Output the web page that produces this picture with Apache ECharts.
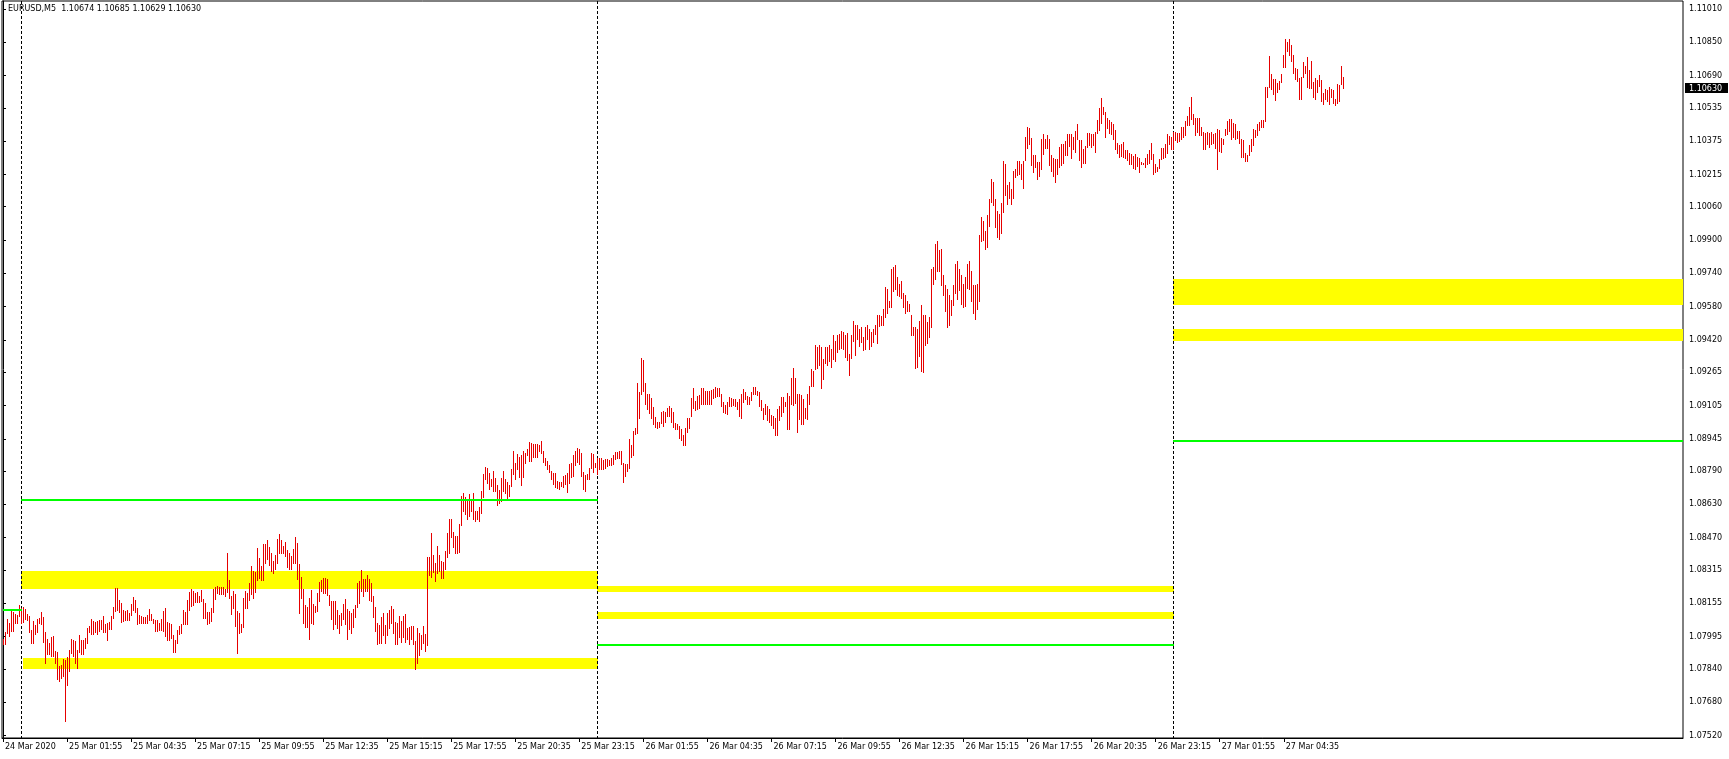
<!DOCTYPE html>
<html><head><meta charset="utf-8">
<script src="https://cdn.jsdelivr.net/npm/echarts@6/dist/echarts.min.js"></script>
<style>html,body{margin:0;padding:0;background:#fff}#c{width:1729px;height:759px}</style>
</head><body><div id="c"></div>
<script>
const symbol = 'EURUSD', timeframe = 'M5';
const lastQuote = [1.10674, 1.10685, 1.10629, 1.10630]; // open high low close
const xTickIdx = [0,32,64,96,128,160,192,224,256,288,320,352,384,416,448,480,512,544,576,608,640];
const xTickLabels = ['24 Mar 2020','25 Mar 01:55','25 Mar 04:35','25 Mar 07:15','25 Mar 09:55','25 Mar 12:35','25 Mar 15:15','25 Mar 17:55','25 Mar 20:35','25 Mar 23:15','26 Mar 01:55','26 Mar 04:35','26 Mar 07:15','26 Mar 09:55','26 Mar 12:35','26 Mar 15:15','26 Mar 17:55','26 Mar 20:35','26 Mar 23:15','27 Mar 01:55','27 Mar 04:35'];
const yTickValues = [1.11010,1.10850,1.10690,1.10535,1.10375,1.10215,1.10060,1.09900,1.09740,1.09580,1.09420,1.09265,1.09105,1.08945,1.08790,1.08630,1.08470,1.08315,1.08155,1.07995,1.07840,1.07680,1.07520];
const slotEnd = 839.5;   // last (empty) 5-minute slot on the right
const daySeparatorIdx = [9, 297, 585];
// [startBar, endBar, priceTop, priceBottom]
const zones = [
  [9, 297, 1.08310, 1.08224],
  [10, 297, 1.07893, 1.07839],
  [297, 585, 1.08240, 1.08209],
  [297, 585, 1.08113, 1.08081],
  [585, slotEnd, 1.09713, 1.09587],
  [585, slotEnd, 1.09473, 1.09416]
];
// [startBar, endBar, price]
const levelLines = [
  [0, 9, 1.08123],
  [9, 297, 1.08653],
  [297, 585, 1.07954],
  [585, slotEnd, 1.08935]
];
const barHigh = [
1.07984,1.08016,1.08080,1.08061,1.08128,1.08112,1.08102,1.08099,1.08147,1.08134,
1.08137,1.08128,1.08102,1.08093,1.08029,1.08070,1.08051,1.08080,1.08086,1.08112,
1.08089,1.08016,1.07984,1.07965,1.07993,1.07997,1.07926,1.07920,1.07856,1.07859,
1.07888,1.07885,1.07897,1.07933,1.07984,1.07981,1.07974,1.07933,1.08003,1.07981,
1.07981,1.07990,1.08035,1.08045,1.08080,1.08070,1.08067,1.08070,1.08077,1.08073,
1.08093,1.08057,1.08061,1.08064,1.08096,1.08137,1.08227,1.08227,1.08169,1.08157,
1.08125,1.08118,1.08125,1.08109,1.08150,1.08185,1.08169,1.08131,1.08099,1.08093,
1.08089,1.08089,1.08099,1.08128,1.08102,1.08080,1.08077,1.08073,1.08061,1.08080,
1.08118,1.08134,1.08067,1.08061,1.08057,1.08003,1.07977,1.08029,1.08045,1.08057,
1.08125,1.08112,1.08169,1.08208,1.08224,1.08214,1.08205,1.08208,1.08192,1.08221,
1.08176,1.08157,1.08115,1.08112,1.08134,1.08224,1.08233,1.08240,1.08233,1.08233,
1.08233,1.08224,1.08397,1.08269,1.08189,1.08214,1.08198,1.08118,1.08109,1.08057,
1.08182,1.08214,1.08205,1.08253,1.08336,1.08310,1.08307,1.08419,1.08374,1.08336,
1.08441,1.08441,1.08457,1.08425,1.08397,1.08360,1.08385,1.08465,1.08488,1.08459,
1.08430,1.08449,1.08411,1.08398,1.08382,1.08417,1.08472,1.08446,1.08344,1.08283,
1.08222,1.08149,1.08136,1.08181,1.08219,1.08152,1.08142,1.08206,1.08257,1.08267,
1.08277,1.08277,1.08273,1.08197,1.08168,1.08165,1.08168,1.08123,1.08101,1.08110,
1.08152,1.08177,1.08129,1.08117,1.08110,1.08129,1.08149,1.08254,1.08264,1.08315,
1.08273,1.08273,1.08293,1.08273,1.08254,1.08190,1.08139,1.08062,1.08053,1.08091,
1.08107,1.08053,1.08107,1.08123,1.08142,1.08126,1.08065,1.08062,1.08094,1.08069,
1.08094,1.08104,1.08037,1.08040,1.08046,1.08046,1.07976,1.08037,1.08014,1.08001,
1.08046,1.08008,1.08376,1.08376,1.08494,1.08389,1.08350,1.08430,1.08389,1.08357,
1.08353,1.08408,1.08494,1.08561,1.08561,1.08497,1.08478,1.08478,1.08536,1.08670,
1.08683,1.08667,1.08648,1.08680,1.08648,1.08686,1.08600,1.08597,1.08619,1.08696,
1.08776,1.08808,1.08805,1.08779,1.08750,1.08792,1.08757,1.08721,1.08699,1.08757,
1.08792,1.08753,1.08737,1.08725,1.08801,1.08885,1.08827,1.08872,1.08856,1.08865,
1.08885,1.08875,1.08894,1.08929,1.08926,1.08920,1.08920,1.08920,1.08913,1.08935,
1.08887,1.08852,1.08839,1.08820,1.08791,1.08782,1.08782,1.08743,1.08740,1.08737,
1.08766,1.08769,1.08782,1.08826,1.08830,1.08865,1.08887,1.08900,1.08897,1.08878,
1.08788,1.08772,1.08775,1.08807,1.08878,1.08874,1.08830,1.08852,1.08852,1.08852,
1.08842,1.08849,1.08846,1.08842,1.08852,1.08865,1.08881,1.08884,1.08887,1.08887,
1.08830,1.08823,1.08826,1.08942,1.08916,1.08983,1.08999,1.09214,1.09172,1.09335,
1.09326,1.09214,1.09159,1.09159,1.09140,1.09098,1.09050,1.09028,1.09028,1.09076,
1.09079,1.09073,1.09095,1.09105,1.09092,1.09073,1.09022,1.09015,1.09009,1.08993,
1.08964,1.08999,1.09047,1.09044,1.09143,1.09191,1.09127,1.09153,1.09156,1.09188,
1.09191,1.09175,1.09175,1.09175,1.09178,1.09185,1.09194,1.09188,1.09191,1.09162,
1.09124,1.09108,1.09124,1.09146,1.09140,1.09134,1.09137,1.09124,1.09137,1.09162,
1.09182,1.09169,1.09150,1.09146,1.09172,1.09194,1.09194,1.09175,1.09172,1.09130,
1.09095,1.09111,1.09102,1.09086,1.09060,1.09054,1.09047,1.09086,1.09105,1.09146,
1.09146,1.09124,1.09166,1.09150,1.09239,1.09284,1.09239,1.09162,1.09162,1.09156,
1.09137,1.09092,1.09159,1.09200,1.09279,1.09272,1.09394,1.09387,1.09397,1.09384,
1.09327,1.09387,1.09384,1.09397,1.09378,1.09442,1.09413,1.09445,1.09448,1.09461,
1.09458,1.09442,1.09455,1.09352,1.09442,1.09509,1.09490,1.09490,1.09471,1.09483,
1.09432,1.09480,1.09493,1.09471,1.09458,1.09474,1.09493,1.09538,1.09538,1.09535,
1.09567,1.09672,1.09666,1.09605,1.09759,1.09771,1.09781,1.09723,1.09691,1.09704,
1.09647,1.09634,1.09605,1.09592,1.09538,1.09483,1.09483,1.09474,1.09509,1.09586,
1.09541,1.09541,1.09506,1.09531,1.09762,1.09768,1.09883,1.09893,1.09851,1.09855,
1.09730,1.09685,1.09663,1.09634,1.09611,1.09685,1.09787,1.09797,1.09759,1.09730,
1.09688,1.09720,1.09787,1.09797,1.09752,1.09682,1.09682,1.09691,1.09922,1.10011,
1.09992,1.09944,1.10018,1.10098,1.10191,1.10181,1.10098,1.10040,1.10024,1.10079,
1.10280,1.10267,1.10162,1.10181,1.10143,1.10232,1.10239,1.10280,1.10280,1.10267,
1.10280,1.10395,1.10443,1.10440,1.10392,1.10306,1.10306,1.10274,1.10277,1.10383,
1.10408,1.10386,1.10402,1.10383,1.10309,1.10293,1.10290,1.10290,1.10347,1.10363,
1.10360,1.10376,1.10411,1.10411,1.10408,1.10395,1.10424,1.10458,1.10378,1.10378,
1.10336,1.10352,1.10416,1.10416,1.10410,1.10410,1.10419,1.10477,1.10535,1.10583,
1.10538,1.10515,1.10487,1.10477,1.10467,1.10458,1.10429,1.10365,1.10355,1.10362,
1.10371,1.10333,1.10333,1.10320,1.10314,1.10304,1.10314,1.10298,1.10295,1.10275,
1.10272,1.10295,1.10311,1.10333,1.10368,1.10311,1.10263,1.10253,1.10291,1.10343,
1.10343,1.10362,1.10410,1.10400,1.10394,1.10419,1.10419,1.10416,1.10413,1.10445,
1.10445,1.10471,1.10496,1.10538,1.10589,1.10503,1.10487,1.10487,1.10487,1.10445,
1.10419,1.10416,1.10419,1.10413,1.10419,1.10410,1.10416,1.10435,1.10429,1.10391,
1.10384,1.10432,1.10474,1.10483,1.10480,1.10461,1.10458,1.10423,1.10423,1.10384,
1.10378,1.10317,1.10307,1.10355,1.10387,1.10432,1.10429,1.10458,1.10467,1.10477,
1.10477,1.10634,1.10637,1.10784,1.10698,1.10675,1.10672,1.10656,1.10666,1.10695,
1.10791,1.10864,1.10851,1.10864,1.10835,1.10791,1.10727,1.10720,1.10679,1.10685,
1.10755,1.10736,1.10781,1.10717,1.10759,1.10659,1.10679,1.10669,1.10691,1.10669,
1.10608,1.10624,1.10621,1.10637,1.10624,1.10621,1.10576,1.10647,1.10643,1.10736,
1.10685];
const barLow = [
1.07958,1.07961,1.08013,1.08000,1.08022,1.08022,1.08062,1.08061,1.08093,1.08061,
1.08064,1.08080,1.08073,1.08019,1.07965,1.07965,1.08009,1.08019,1.08061,1.08057,
1.07968,1.07869,1.07910,1.07913,1.07904,1.07901,1.07869,1.07792,1.07782,1.07795,
1.07805,1.07590,1.07763,1.07830,1.07917,1.07904,1.07869,1.07846,1.07923,1.07913,
1.07910,1.07942,1.07965,1.08016,1.08009,1.08006,1.08016,1.08009,1.08022,1.08032,
1.08016,1.08019,1.07981,1.08032,1.08032,1.08086,1.08118,1.08125,1.08115,1.08067,
1.08070,1.08077,1.08073,1.08077,1.08099,1.08125,1.08115,1.08057,1.08061,1.08061,
1.08061,1.08061,1.08061,1.08077,1.08073,1.08061,1.08022,1.08022,1.08025,1.08029,
1.08022,1.07997,1.07977,1.07977,1.07987,1.07920,1.07923,1.07965,1.08009,1.08013,
1.08057,1.08057,1.08057,1.08121,1.08141,1.08147,1.08163,1.08160,1.08163,1.08166,
1.08086,1.08086,1.08057,1.08061,1.08070,1.08112,1.08176,1.08205,1.08201,1.08201,
1.08201,1.08192,1.08211,1.08179,1.08105,1.08134,1.08048,1.07917,1.08013,1.08019,
1.08041,1.08134,1.08134,1.08169,1.08201,1.08182,1.08208,1.08265,1.08275,1.08269,
1.08269,1.08349,1.08368,1.08339,1.08310,1.08302,1.08321,1.08350,1.08398,1.08398,
1.08395,1.08382,1.08328,1.08321,1.08321,1.08350,1.08347,1.08273,1.08110,1.08181,
1.08062,1.08043,1.08043,1.07985,1.08059,1.08056,1.08113,1.08117,1.08168,1.08213,
1.08206,1.08206,1.08193,1.08149,1.08078,1.08033,1.08056,1.08037,1.08014,1.08049,
1.08078,1.08056,1.07985,1.08033,1.08011,1.08043,1.08091,1.08136,1.08155,1.08213,
1.08190,1.08216,1.08216,1.08171,1.08165,1.08091,1.08024,1.07960,1.07963,1.07963,
1.08005,1.07963,1.08001,1.08037,1.08062,1.08014,1.07960,1.07960,1.07992,1.07969,
1.07992,1.07969,1.07985,1.07960,1.07985,1.07960,1.07841,1.07867,1.07909,1.07934,
1.07963,1.07928,1.07957,1.08289,1.08280,1.08305,1.08264,1.08302,1.08309,1.08277,
1.08277,1.08321,1.08376,1.08395,1.08475,1.08427,1.08398,1.08398,1.08401,1.08533,
1.08600,1.08584,1.08558,1.08574,1.08597,1.08561,1.08549,1.08558,1.08549,1.08587,
1.08667,1.08750,1.08731,1.08702,1.08718,1.08696,1.08696,1.08629,1.08635,1.08648,
1.08696,1.08686,1.08654,1.08670,1.08718,1.08776,1.08750,1.08798,1.08763,1.08725,
1.08763,1.08827,1.08865,1.08840,1.08840,1.08859,1.08856,1.08859,1.08888,1.08878,
1.08836,1.08817,1.08798,1.08785,1.08753,1.08727,1.08714,1.08711,1.08702,1.08718,
1.08714,1.08730,1.08692,1.08734,1.08762,1.08766,1.08817,1.08836,1.08826,1.08766,
1.08705,1.08695,1.08750,1.08750,1.08804,1.08788,1.08810,1.08775,1.08801,1.08801,
1.08798,1.08804,1.08814,1.08820,1.08820,1.08826,1.08849,1.08855,1.08855,1.08823,
1.08740,1.08766,1.08791,1.08804,1.08858,1.08865,1.08970,1.08974,1.09047,1.09159,
1.09175,1.09114,1.09086,1.09070,1.09044,1.09018,1.09002,1.08999,1.09002,1.09022,
1.09006,1.09028,1.09054,1.09054,1.09025,1.09002,1.08993,1.08990,1.08951,1.08938,
1.08916,1.08913,1.08980,1.08999,1.09054,1.09095,1.09082,1.09089,1.09095,1.09111,
1.09111,1.09114,1.09111,1.09114,1.09111,1.09140,1.09146,1.09150,1.09153,1.09102,
1.09073,1.09070,1.09063,1.09102,1.09102,1.09108,1.09102,1.09086,1.09054,1.09047,
1.09124,1.09134,1.09114,1.09114,1.09130,1.09159,1.09159,1.09156,1.09105,1.09082,
1.09041,1.09066,1.09034,1.09028,1.09012,1.08999,1.08961,1.08961,1.09034,1.09057,
1.09073,1.09102,1.08993,1.08993,1.09111,1.09108,1.09118,1.08977,1.09038,1.09018,
1.09015,1.09047,1.09041,1.09110,1.09200,1.09200,1.09282,1.09285,1.09301,1.09190,
1.09231,1.09307,1.09298,1.09317,1.09291,1.09327,1.09317,1.09362,1.09375,1.09381,
1.09375,1.09336,1.09323,1.09253,1.09333,1.09413,1.09349,1.09423,1.09391,1.09410,
1.09371,1.09375,1.09423,1.09378,1.09391,1.09410,1.09448,1.09407,1.09487,1.09490,
1.09490,1.09528,1.09547,1.09576,1.09576,1.09653,1.09666,1.09637,1.09631,1.09621,
1.09576,1.09547,1.09557,1.09560,1.09445,1.09442,1.09285,1.09288,1.09343,1.09269,
1.09266,1.09397,1.09403,1.09432,1.09480,1.09691,1.09711,1.09752,1.09752,1.09682,
1.09634,1.09560,1.09480,1.09493,1.09538,1.09589,1.09647,1.09615,1.09659,1.09592,
1.09576,1.09583,1.09669,1.09666,1.09608,1.09547,1.09522,1.09567,1.09605,1.09893,
1.09899,1.09855,1.09864,1.09967,1.10082,1.10066,1.09963,1.09915,1.09903,1.09935,
1.10034,1.10114,1.10072,1.10101,1.10075,1.10104,1.10203,1.10210,1.10216,1.10191,
1.10152,1.10283,1.10341,1.10360,1.10258,1.10226,1.10251,1.10191,1.10207,1.10239,
1.10315,1.10341,1.10341,1.10258,1.10232,1.10207,1.10178,1.10219,1.10251,1.10261,
1.10271,1.10309,1.10309,1.10351,1.10293,1.10335,1.10325,1.10387,1.10285,1.10253,
1.10272,1.10272,1.10346,1.10355,1.10349,1.10355,1.10323,1.10416,1.10426,1.10464,
1.10503,1.10394,1.10439,1.10416,1.10410,1.10387,1.10339,1.10317,1.10301,1.10304,
1.10298,1.10295,1.10285,1.10263,1.10263,1.10247,1.10243,1.10256,1.10227,1.10263,
1.10266,1.10253,1.10263,1.10272,1.10291,1.10215,1.10227,1.10231,1.10247,1.10288,
1.10295,1.10298,1.10320,1.10362,1.10339,1.10339,1.10378,1.10371,1.10375,1.10387,
1.10397,1.10403,1.10451,1.10451,1.10480,1.10458,1.10403,1.10419,1.10403,1.10403,
1.10339,1.10339,1.10359,1.10346,1.10359,1.10365,1.10343,1.10243,1.10327,1.10323,
1.10362,1.10403,1.10407,1.10423,1.10387,1.10397,1.10384,1.10391,1.10368,1.10301,
1.10301,1.10279,1.10279,1.10307,1.10327,1.10355,1.10394,1.10403,1.10426,1.10445,
1.10445,1.10474,1.10586,1.10634,1.10624,1.10599,1.10573,1.10611,1.10624,1.10659,
1.10730,1.10733,1.10807,1.10791,1.10762,1.10704,1.10675,1.10666,1.10579,1.10579,
1.10685,1.10701,1.10634,1.10631,1.10631,1.10589,1.10576,1.10611,1.10640,1.10567,
1.10551,1.10579,1.10570,1.10554,1.10586,1.10560,1.10547,1.10560,1.10570,1.10650,
1.10629];

const FONT = 'DejaVu Sans';
const BAR_COLOR = '#e60000';
const chart = echarts.init(document.getElementById('c'), null, {renderer: 'canvas'});

function barItem(params, api) {
  const hi = api.coord([api.value(0), api.value(1)]);
  const lo = api.coord([api.value(0), api.value(2)]);
  const px = Math.floor(hi[0]);
  const top = Math.round(hi[1]);
  const bot = Math.round(lo[1]);
  return {type: 'rect', shape: {x: px, y: top, width: 1, height: Math.max(1, bot - top + 1)},
          style: {fill: BAR_COLOR}};
}
function zoneItem(params, api) {
  const a = api.coord([api.value(0), api.value(2)]);
  const b = api.coord([api.value(1), api.value(3)]);
  const x0 = Math.floor(a[0]), x1 = Math.floor(b[0]) + 1;
  const y0 = Math.round(a[1]), y1 = Math.round(b[1]);
  return {type: 'rect', shape: {x: x0, y: y0, width: x1 - x0, height: y1 - y0}, style: {fill: '#ffff00'}};
}
function levelItem(params, api) {
  const a = api.coord([api.value(0), api.value(2)]);
  const b = api.coord([api.value(1), api.value(2)]);
  const x0 = Math.floor(a[0]), x1 = Math.floor(b[0]) + 1;
  const y = Math.round(a[1]) - 1;
  return {type: 'rect', shape: {x: x0, y: y, width: x1 - x0, height: 2}, style: {fill: '#00ff00'}};
}
function sepItem(params, api) {
  const cs = params.coordSys;
  const p = api.coord([api.value(0), yTickValues[0]]);
  const x = Math.floor(p[0]) + 0.5;
  return {type: 'line', shape: {x1: x, y1: cs.y, x2: x, y2: cs.y + cs.height},
          style: {stroke: '#000', lineWidth: 1, lineDash: [3, 2]}};
}
function priceTagItem(params, api) {
  const cs = params.coordSys;
  const p = api.coord([api.value(0), api.value(1)]);
  const y = Math.round(p[1]);
  const x = cs.x + cs.width;
  return {type: 'group', children: [
    {type: 'rect', shape: {x: x + 2, y: y - 5, width: 43, height: 10}, style: {fill: '#000'}},
    {type: 'text', style: {x: x + 6, y: y + 0.5, text: api.value(1).toFixed(5), fill: '#fff',
      font: '8px "' + FONT + '"', verticalAlign: 'middle', align: 'left'}}
  ]};
}

const option = {
  animation: false,
  backgroundColor: '#ffffff',
  title: {
    text: symbol + ',' + timeframe + '  ' + lastQuote.map(v => v.toFixed(5)).join(' '),
    left: 8, top: 5, padding: 0,
    textStyle: {fontFamily: FONT, fontSize: 8, fontWeight: 'normal', color: '#000'}
  },
  grid: {left: 2, top: 1, right: 46, bottom: 21, show: true, borderColor: '#000', borderWidth: 1,
         backgroundColor: '#fff', containLabel: false, outerBoundsMode: 'none'},
  xAxis: {
    type: 'value', min: -0.5, max: slotEnd,
    splitLine: {show: false},
    axisLine: {show: true, lineStyle: {color: '#000', width: 1}},
    axisTick: {show: true, customValues: xTickIdx, length: 4, lineStyle: {color: '#000'}},
    axisLabel: {
      customValues: xTickIdx, align: 'left', margin: 5, padding: [0, 0, 0, 2],
      fontFamily: FONT, fontSize: 8, color: '#000',
      formatter: v => xTickLabels[xTickIdx.indexOf(Math.round(v))] || ''
    }
  },
  yAxis: {
    type: 'value', position: 'right', min: 1.07508, max: 1.11048, scale: true,
    splitLine: {show: false},
    axisLine: {show: true, lineStyle: {color: '#000', width: 1}},
    axisTick: {show: true, customValues: yTickValues, length: 3, lineStyle: {color: '#000'}},
    axisLabel: {customValues: yTickValues, margin: 6, fontFamily: FONT, fontSize: 8, color: '#000',
                formatter: v => v.toFixed(5)}
  },
  series: [
    {type: 'custom', name: 'zones', renderItem: zoneItem, clip: true, z: 1,
     encode: {x: [0, 1], y: [2, 3]}, data: zones, silent: true},
    {type: 'custom', name: 'separators', renderItem: sepItem, clip: true, z: 2,
     encode: {x: 0}, data: daySeparatorIdx.map(i => [i]), silent: true},
    {type: 'custom', name: 'EURUSD', renderItem: barItem, clip: true, z: 3,
     encode: {x: 0, y: [1, 2]}, data: barHigh.map((h, i) => [i, h, barLow[i]]), silent: true},
    {type: 'custom', name: 'levels', renderItem: levelItem, clip: true, z: 4,
     encode: {x: [0, 1], y: 2}, data: levelLines, silent: true},
    {type: 'custom', name: 'bid', renderItem: priceTagItem, clip: false, z: 10,
     encode: {x: 0, y: 1}, data: [[barHigh.length - 1, lastQuote[3]]], silent: true}
  ]
};
chart.setOption(option);
</script></body></html>
